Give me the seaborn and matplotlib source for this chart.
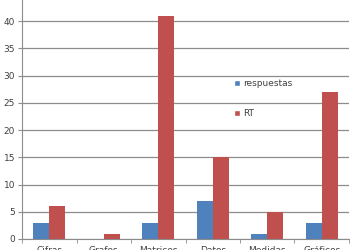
import matplotlib
matplotlib.use("Agg")
import matplotlib.pyplot as plt
import seaborn as sns
import pandas as pd
from matplotlib.patches import Patch

categories = ["Cifras", "Grafos", "Matrices", "Datos", "Medidas", "Gráficos"]
respuestas = [3, 0, 3, 7, 1, 3]
rt = [6, 1, 41, 15, 5, 27]
series_names = ["respuestas", "RT"]
yticks = [0, 5, 10, 15, 20, 25, 30, 35, 40, 45]

df = pd.DataFrame({
    "cat": categories * 2,
    "serie": [series_names[0]] * len(categories) + [series_names[1]] * len(categories),
    "valor": respuestas + rt,
})

sns.set_style("white")
plt.rcParams["font.family"] = ["DejaVu Sans"]

fig = plt.figure(figsize=(3.5, 2.5), dpi=100)
ax = fig.add_axes([0.063, 0.044, 0.934, 0.98])

palette = {"respuestas": "#4F81BD", "RT": "#C0504D"}
sns.barplot(data=df, x="cat", y="valor", hue="serie", palette=palette,
            width=0.58, gap=0, ax=ax, saturation=1, legend=False,
            errorbar=None, linewidth=0, edgecolor="none")

ax.set_ylim(0, 45)
ax.set_xlim(-0.5, len(categories) - 0.5)
ax.set_yticks(yticks)
ax.yaxis.grid(True, color="#8c8c8c", linewidth=0.9)
ax.set_axisbelow(True)
for s in ["top", "right"]:
    ax.spines[s].set_visible(False)
ax.spines["left"].set_color("#8c8c8c")
ax.spines["bottom"].set_color("#8c8c8c")
ax.set_xlabel("")
ax.set_ylabel("")
ax.tick_params(axis="y", labelsize=6.5, colors="#404040", length=3, width=0.8,
               left=True, pad=2)
ax.tick_params(axis="y", color="#8c8c8c")
ax.set_xticks([i + 0.5 for i in range(-1, len(categories))], minor=True)
ax.tick_params(axis="x", which="minor", length=3, color="#8c8c8c", bottom=True)
ax.tick_params(axis="x", which="major", length=0, labelsize=6.5, labelcolor="#404040", pad=5)

handles = [Patch(facecolor=palette[n], label=n) for n in series_names]
ax.legend(handles=handles, loc="upper left", bbox_to_anchor=(0.625, 0.685),
          frameon=False, fontsize=6.5, handlelength=0.6, handleheight=0.6,
          handletextpad=0.4, labelspacing=2.3, labelcolor="#404040")

fig.savefig("out.png", dpi=100)
